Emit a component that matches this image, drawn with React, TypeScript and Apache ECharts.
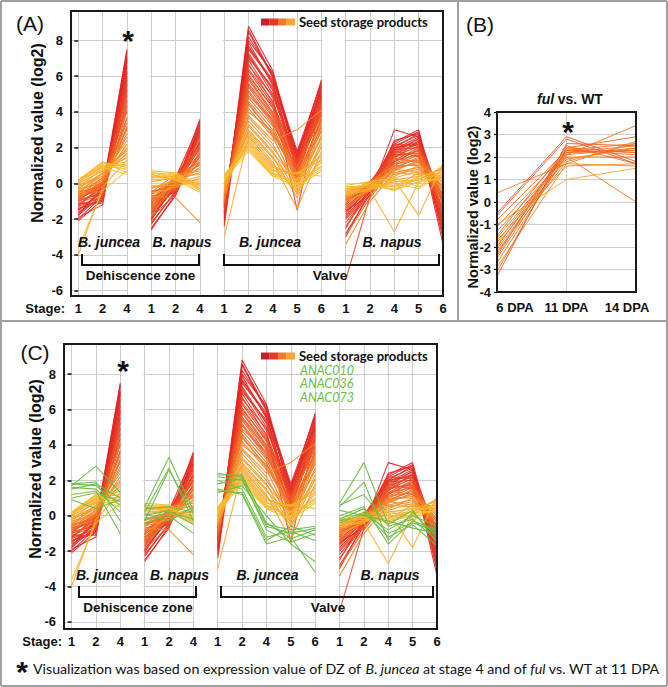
import React, { useEffect, useRef } from "react";
import * as echarts from "echarts";

// ---------- data ----------
const stageLabels = ["1", "2", "4", "1", "2", "4", "1", "2", "4", "5", "6", "1", "2", "4", "5", "6"];
const columnIdx = [0, 1, 2, 3, 4, 5, 6, 7, 8, 9, 10, 11, 12, 13, 14, 15];
const blocks = [[0, 1, 2], [3, 4, 5], [6, 7, 8, 9, 10], [11, 12, 13, 14, 15]];
const gapCenters = [2.5, 5.5, 10.5];
const yTicks = [-6, -4, -2, 0, 2, 4, 6, 8];

// columns: DZ juncea 1,2,4 | DZ napus 1,2,4 | Valve juncea 1,2,4,5,6 | Valve napus 1,2,4,5,6
const seedGenes: number[][] = [
  [-1.8, -0.6, 7.5, -1.9, -0.2, 3.6, -1.9, 8.8, 6.3, 1.4, 5.8, -1.6, -0.3, 2.2, 2.9, -2.9],
  [-1.7, -0.3, 7.4, -2.0, -0.1, 3.0, -2.2, 8.5, 5.9, 1.5, 5.7, -1.9, -0.5, 2.4, 2.8, -3.1],
  [-2.1, -0.9, 7.3, -2.2, -0.5, 3.3, -1.6, 8.6, 6.0, 1.8, 5.6, -2.8, -0.6, 3.0, 2.6, -3.4],
  [-1.5, -0.4, 7.1, -1.4, 0.1, 3.1, -1.4, 8.2, 6.1, 1.2, 5.5, -1.3, -0.2, 2.0, 2.8, -2.4],
  [-2.0, -0.7, 7.0, -2.6, -0.6, 3.5, -1.8, 8.0, 6.2, 1.0, 5.4, -2.5, -0.2, 2.3, 3.0, -2.2],
  [-1.4, -0.9, 6.9, -1.1, 0.2, 2.7, -1.3, 7.9, 5.5, 1.7, 5.2, -1.5, -0.7, 1.9, 2.6, -2.6],
  [-1.9, -1.2, 6.8, -2.5, -0.7, 2.9, -2.0, 7.7, 5.6, 0.9, 5.3, -1.8, -0.4, 1.8, 2.5, -1.9],
  [-1.2, -0.2, 6.6, -1.0, 0.3, 3.4, -1.1, 7.6, 5.8, 1.6, 5.1, -1.1, 0.0, 2.1, 2.7, -1.2],
  [-1.8, -0.2, 6.5, -2.3, -0.4, 3.2, -2.4, 7.5, 5.7, 0.6, 4.8, -3.0, -0.4, 2.0, 2.2, -1.5],
  [-1.6, -0.8, 6.3, -1.7, -0.3, 2.6, -1.7, 7.3, 5.2, 0.7, 4.9, -2.2, -0.5, 1.6, 2.3, -2.7],
  [-1.1, -1.1, 6.2, -1.5, 0.1, 2.3, -1.2, 7.2, 5.0, 1.3, 5.0, -1.0, -0.1, 1.7, 2.5, -2.0],
  [-1.0, -0.5, 6.0, -2.0, 0.2, 2.8, -0.9, 7.0, 5.4, 1.1, 5.0, -1.4, -0.1, 1.9, 2.0, -1.6],
  [-1.5, -0.5, 5.9, -0.9, -0.5, 2.9, -1.6, 7.1, 5.3, 0.8, 4.5, -2.0, -0.6, 1.5, 2.1, -1.1],
  [-1.4, -1.0, 5.8, -1.2, -0.4, 2.4, -1.3, 6.9, 4.8, -1.5, 4.6, -0.9, -0.3, 1.4, 2.4, -2.1],
  [-1.2, -0.8, 5.6, -2.1, 0.3, 2.0, -1.0, 6.6, 4.9, 1.2, 4.8, -1.2, 0.0, 2.0, 2.3, -2.3],
  [-0.9, -0.1, 5.5, -1.6, 0.0, 2.2, -1.0, 6.7, 4.5, 1.3, 4.7, -1.7, -0.2, 2.2, 2.1, -0.8],
  [-0.8, -0.3, 5.3, -1.2, -0.2, 2.3, -1.4, 6.3, 4.4, 0.5, 4.2, -0.7, -0.3, 1.6, 1.7, -1.7],
  [-1.3, -0.7, 5.2, -0.8, -0.2, 2.0, -1.5, 6.4, 4.6, 0.8, 4.3, -5.4, -0.7, 1.2, 1.9, -1.4],
  [-1.3, 0.0, 5.0, -1.7, 0.1, 1.9, -0.7, 6.0, 4.3, 1.1, 4.5, -2.4, -0.5, 1.3, 2.0, -0.9],
  [-0.7, -0.3, 4.9, -1.3, 0.4, 2.5, -0.8, 6.1, 4.2, 0.4, 4.4, -1.2, 0.1, 1.7, 2.2, -1.0],
  [-0.9, -0.6, 4.7, -0.7, -0.4, 1.7, -1.1, 5.8, 3.9, 0.7, 3.9, -1.1, -0.2, 1.8, 1.5, -1.5],
  [-1.1, -0.6, 4.6, -1.9, -0.6, 1.8, -1.2, 5.9, 4.0, 1.0, 4.0, -0.8, -0.4, 1.3, 1.6, -1.8],
  [-0.6, -0.1, 4.4, -1.4, 0.2, 2.2, -0.9, 5.5, 3.7, 0.3, 3.6, -1.6, 0.1, 1.2, 1.9, -0.7],
  [-0.6, 0.0, 4.3, -0.6, 0.3, 1.6, -0.7, 5.6, 3.8, 0.6, 4.1, -1.5, -0.2, 1.5, 1.8, -0.6],
  [-1.0, 0.1, 4.1, -1.0, -0.3, 1.5, -0.6, 5.2, 3.4, 0.8, 3.9, -0.9, -0.4, 1.0, 1.6, -1.1],
  [-1.0, -0.4, 4.0, -1.5, -0.1, 2.1, -1.0, 5.4, 3.5, 0.2, 3.7, -2.9, -0.8, 0.9, 1.4, -1.3],
  [-0.5, -0.2, 3.7, -1.1, 0.2, 1.4, -0.6, 5.1, 3.3, 0.9, 3.8, -1.0, 0.0, 1.1, 1.7, -0.4],
  [-0.7, -0.2, 3.6, -0.5, 0.0, 1.1, -0.8, 4.8, 3.2, 0.1, 3.2, -1.4, -0.2, 1.1, 1.3, -0.6],
  [-0.8, 0.1, 3.4, -0.4, -0.3, 1.2, -1.1, 4.9, 3.6, 0.3, 3.5, -0.7, -0.3, 1.4, 1.2, -0.9],
  [-0.4, -0.5, 3.2, -1.8, 0.0, 1.5, -0.5, 4.6, 3.0, 0.0, 3.3, -1.9, -0.6, 0.8, 1.5, -0.2],
  [-0.5, 0.3, 3.1, -1.3, 0.3, 1.2, -0.5, 4.5, 2.7, 0.5, 2.9, -0.8, 0.0, 0.8, 1.2, -0.2],
  [-0.9, 0.2, 3.0, -0.9, 0.4, 1.0, -0.9, 4.4, 2.8, 0.6, 3.4, -0.6, 0.1, 1.0, 1.0, -0.7],
  [-0.3, 0.0, 2.8, -0.2, -0.1, 0.9, -0.4, 4.2, 2.6, -0.2, 3.0, -1.3, -0.4, 0.7, 1.3, 0.0],
  [-0.7, 0.3, 2.6, -1.4, 0.1, 1.3, -0.8, 4.0, 2.9, 0.4, 3.1, -3.4, -1.0, 0.6, 0.9, -0.5],
  [-0.2, 0.4, 2.4, -0.5, 0.5, 0.7, -0.3, 3.8, 2.4, 3.0, 4.1, -0.9, -0.2, 0.9, 1.1, 0.2],
  [-0.6, 0.2, 2.2, -0.7, -0.8, -2.2, -0.6, 3.7, 2.2, -0.4, 2.7, -0.5, 0.0, 0.5, 0.8, -0.3],
  [-0.1, 0.5, 2.0, -0.3, 0.2, 0.6, -0.2, 3.5, 2.0, 0.1, 2.5, -1.1, -0.3, 0.8, 0.6, 0.4],
  [-0.5, 0.6, 1.9, -1.0, 0.0, 0.4, -0.5, 3.3, 1.8, -0.6, 2.3, -0.6, -0.1, 0.4, 1.0, 0.1],
  [0.0, 0.7, 1.8, 0.1, 0.3, 0.8, -0.1, 3.2, 1.7, 0.2, 2.6, -0.8, 0.1, 0.6, 0.5, 0.6],
  [-0.4, 0.4, 1.7, -0.6, -0.2, 0.3, -0.4, 3.0, 1.5, -0.8, 2.1, -0.4, -0.2, 0.3, 0.7, -0.1],
  [0.1, 0.8, 1.6, 0.3, 0.4, 0.5, 0.0, 2.9, 1.4, 0.0, 2.0, -1.0, -0.4, 0.2, 0.4, 0.8],
  [-0.3, 0.6, 1.5, -0.2, 0.1, 0.2, -0.3, 2.8, 1.2, -1.4, 1.8, -0.3, 0.0, -0.2, 0.6, 0.3],
  [0.2, 0.9, 1.4, 0.5, 0.2, -0.1, 0.2, 2.7, 1.0, 0.3, 1.6, -0.7, -0.3, 0.1, 0.2, 0.9],
  [-4.0, -0.2, 1.3, -0.1, -0.1, 0.1, -3.0, 2.6, 1.1, -0.5, 1.4, -0.5, 0.1, -0.4, 0.3, 0.5],
  [0.1, 1.0, 1.2, 0.6, 0.5, -0.3, 0.3, 2.5, 0.9, 0.5, 1.5, -0.2, -0.2, 0.0, 0.0, 1.0],
  [-0.2, 0.8, 1.1, 0.2, 0.3, 0.0, -0.2, 2.4, 0.8, -0.3, 1.2, -0.6, -0.4, -2.7, 0.1, 0.7],
  [0.2, 1.1, 1.0, 0.7, 0.6, -0.4, 0.4, 2.3, 0.7, 0.6, 1.3, -0.4, 0.0, 0.2, -1.8, 1.1],
  [0.0, 1.2, 0.9, 0.4, 0.4, -0.2, 0.1, 2.2, 0.6, -0.1, 1.0, -0.3, -0.2, -0.3, 0.4, 0.4],
  [0.1, 1.0, 0.8, 0.5, 0.2, -0.5, 0.5, 2.1, 0.5, 0.6, 0.4, -0.1, 0.1, 0.3, -0.2, 0.8],
  [-3.6, -0.4, 0.7, 0.3, 0.5, -0.3, 0.3, 2.0, 0.4, 0.2, 0.9, -0.5, -0.3, -0.1, 0.2, 0.2],
  [0.2, 1.2, 0.6, 0.6, 0.3, -0.4, 0.4, 1.9, 0.5, 0.0, 0.8, -0.2, -0.1, 0.0, -0.3, 0.6],
  [0.1, 0.9, 0.5, 0.4, 0.6, -0.1, 0.2, 1.8, 0.4, -0.2, 0.7, -0.4, 0.0, -0.4, 0.1, 0.3],
];

const anacGenes: number[][] = [
  [1.8, 1.7, 0.6, 0.5, 3.3, 0.3, 2.3, 2.3, -0.5, -0.8, -0.6, 0.7, 3.0, -0.5, 0.3, -1.5],
  [1.7, 2.8, 1.3, 0.2, 2.7, -0.3, 2.2, 2.0, -0.6, -1.0, -0.7, 0.5, 1.9, -1.4, 0.2, -1.2],
  [1.6, 1.5, 0.2, -0.3, 2.6, 0.1, 2.0, 1.5, -1.2, -0.9, -1.4, 0.0, 0.5, -1.6, -0.3, -0.8],
  [1.5, 1.8, 1.0, 0.0, 0.3, -0.5, 1.8, 2.1, -0.8, -1.5, -1.0, -0.3, 0.2, -1.2, -0.5, -1.7],
  [1.2, 1.4, -1.0, -0.4, 0.0, -1.0, 1.5, 1.2, -1.6, -1.2, -3.2, 0.3, 0.0, -0.3, -0.7, -1.0],
  [1.0, 1.3, 0.8, 0.4, 0.5, 0.2, 1.4, 1.3, -1.4, -0.6, -1.1, -0.4, 0.1, -0.8, 0.0, -0.6],
  [1.8, 1.9, -0.3, -0.2, 0.2, -0.2, 2.4, 2.2, -0.4, -1.3, -0.8, 0.6, 1.2, -0.6, -0.2, -1.4],
  [0.9, 0.4, 0.9, 0.1, -0.3, 0.5, 1.3, 1.7, 0.0, -1.6, -2.6, -0.2, 0.4, -1.0, -0.4, -0.9],
];

const fulStages = ["6 DPA", "11 DPA", "14 DPA"];
const fulGenes: number[][] = [
  [0.4, 1.7, 1.6],
  [-0.5, 2.9, 1.8],
  [-0.6, 2.8, 1.7],
  [-0.8, 2.3, 2.6],
  [-1.0, 1.0, 1.5],
  [-1.1, 2.2, 2.3],
  [-1.3, 2.0, 2.0],
  [-1.5, 2.4, 2.9],
  [-1.6, 2.1, 3.4],
  [-1.8, 2.2, 2.5],
  [-1.9, 1.9, 2.4],
  [-2.0, 2.3, 2.2],
  [-2.1, 2.0, 0.0],
  [-2.2, 1.8, 2.6],
  [-2.4, 2.5, 1.7],
  [-2.5, 2.2, 2.3],
  [-2.7, 2.1, 2.4],
  [-2.9, 1.7, 2.7],
  [-3.1, 2.4, 2.2],
  [-3.3, 2.6, 2.5],
  [-1.7, 1.6, 1.7],
  [-2.3, 2.3, 2.1],
];

// ---------- styling helpers ----------
const SANS = "'Liberation Sans', Arial, sans-serif";
const LATO = "Lato, 'Liberation Sans', sans-serif";
const GRID_COLOR = "#cdcdcd";
const GREEN = "#6cbd45";
const rampStops: [number, number[]][] = [
  [0, [228, 30, 36]],
  [0.55, [243, 112, 33]],
  [1, [250, 192, 46]],
];
function ramp(t: number): string {
  const tt = Math.max(0, Math.min(1, t));
  let i = 0;
  while (i < rampStops.length - 2 && tt > rampStops[i + 1][0]) i++;
  const [t0, a] = rampStops[i];
  const [t1, b] = rampStops[i + 1];
  const lt = (tt - t0) / (t1 - t0);
  const c = a.map((v, k) => Math.round(v + (b[k] - v) * lt));
  return `rgb(${c[0]},${c[1]},${c[2]})`;
}

function geneLine(vals: number[]) {
  const out: any[] = [];
  blocks.forEach((blk, bi) => {
    if (bi > 0) out.push([blk[0] - 0.5, "-"]);
    blk.forEach((c) => out.push([c, vals[c]]));
  });
  return out;
}

const PANELS = {
  A: { grid: { left: 71, top: 11, width: 372, height: 285 }, xMin: -0.3, yMin: -6.3, yMax: 9.65 },
  C: { grid: { left: 64, top: 344, width: 373, height: 285 }, xMin: -0.31, yMin: -6.4, yMax: 9.7 },
  B: { grid: { left: 497, top: 112, width: 139, height: 180 } },
};

const tickLabelStyle = { fontFamily: SANS, fontWeight: "bold" as const, fontSize: 13, color: "#111" };

function text(x: number, y: number, str: string, o: any = {}) {
  const style: any = {
    text: str,
    fill: o.fill || "#111",
    fontFamily: o.fontFamily || SANS,
    fontSize: o.fontSize || 13,
    fontWeight: o.fontWeight || "normal",
    fontStyle: o.fontStyle || "normal",
    align: o.align || "center",
    verticalAlign: "middle",
  };
  if (o.rich) style.rich = o.rich;
  return { type: "text", x, y, rotation: o.rotation || 0, z: 200, silent: true, style };
}
function rect(x: number, y: number, w: number, h: number, style: any, z = 150) {
  return { type: "rect", z, silent: true, shape: { x, y, width: w, height: h }, style };
}
function line(x1: number, y1: number, x2: number, y2: number, style: any, z = 150) {
  return { type: "line", z, silent: true, shape: { x1, y1, x2, y2 }, style };
}
function bracket(x1: number, x2: number, yTop: number, yBot: number) {
  return {
    type: "polyline",
    z: 160,
    silent: true,
    shape: { points: [[x1, yTop], [x1, yBot], [x2, yBot], [x2, yTop]] },
    style: { stroke: "#111", lineWidth: 2, fill: "none" },
  };
}

function stagePanel(idx: number, key: "A" | "C", withAnac: boolean) {
  const p = PANELS[key];
  const colW = p.grid.width / (15 - p.xMin);
  const xAxis = {
    type: "value",
    gridIndex: idx,
    min: p.xMin,
    max: 15,
    axisLine: { show: false },
    axisTick: { show: false, customValues: columnIdx },
    splitLine: { show: true, lineStyle: { color: GRID_COLOR, width: 1 } },
    axisLabel: {
      ...tickLabelStyle,
      customValues: columnIdx,
      margin: 6,
      formatter: (v: number) => stageLabels[Math.round(v)] ?? "",
    },
  };
  const yAxis = {
    type: "value",
    gridIndex: idx,
    min: p.yMin,
    max: p.yMax,
    axisLine: { show: false },
    axisTick: { show: true, customValues: yTicks, length: 4, lineStyle: { color: "#111", width: 1.5 } },
    splitLine: { show: true, lineStyle: { color: GRID_COLOR, width: 1 } },
    axisLabel: { ...tickLabelStyle, customValues: yTicks, margin: 8 },
  };
  // white bands separating the tissue / species blocks
  const bandStyle = {
    type: "bar",
    xAxisIndex: idx,
    yAxisIndex: idx,
    z: 1,
    silent: true,
    barWidth: Math.round(colW - 2),
    barGap: "-100%",
    itemStyle: { color: "#ffffff" },
  };
  const series: any[] = [
    { ...bandStyle, data: gapCenters.map((x) => [x, p.yMax]) },
    { ...bandStyle, data: gapCenters.map((x) => [x, p.yMin]) },
  ];
  const maxV = 7.5;
  const minV = 0.5;
  const ordered = [...seedGenes].sort((g1, g2) => g2[2] - g1[2]);
  ordered.forEach((g) => {
    const t = Math.pow(Math.max(0, (maxV - g[2]) / (maxV - minV)), 1.25);
    series.push({
      type: "line",
      xAxisIndex: idx,
      yAxisIndex: idx,
      z: 3,
      silent: true,
      showSymbol: false,
      symbol: "none",
      connectNulls: false,
      data: geneLine(g),
      lineStyle: { width: 1.1, color: ramp(t), opacity: 0.9 },
    });
  });
  if (withAnac) {
    anacGenes.forEach((g) => {
      series.push({
        type: "line",
        xAxisIndex: idx,
        yAxisIndex: idx,
        z: 4,
        silent: true,
        showSymbol: false,
        symbol: "none",
        connectNulls: false,
        data: geneLine(g),
        lineStyle: { width: 1.1, color: GREEN, opacity: 0.95 },
      });
    });
  }
  return { xAxis, yAxis, series };
}

function buildOption() {
  const a = stagePanel(0, "A", false);
  const c = stagePanel(1, "C", true);

  // panel B
  const bx = {
    type: "category",
    gridIndex: 2,
    data: fulStages,
    boundaryGap: false,
    axisLine: { show: false },
    axisTick: { show: false },
    splitLine: { show: true, lineStyle: { color: GRID_COLOR, width: 1 } },
    axisLabel: {
      ...tickLabelStyle,
      interval: 0,
      margin: 9,
      formatter: (v: string, i: number) => (i === 0 ? `{l|${v}}` : i === 2 ? `{r|${v}}` : `{m|${v}}`),
      rich: {
        l: { ...tickLabelStyle, padding: [0, 0, 0, 36] },
        m: { ...tickLabelStyle },
        r: { ...tickLabelStyle, padding: [0, 18, 0, 0] },
      },
    },
  };
  const by = {
    type: "value",
    gridIndex: 2,
    min: -4,
    max: 4,
    interval: 1,
    axisLine: { show: false },
    axisTick: { show: true, length: 3, lineStyle: { color: "#111", width: 1.2 } },
    splitLine: { show: true, lineStyle: { color: GRID_COLOR, width: 1 } },
    axisLabel: { ...tickLabelStyle, margin: 6 },
  };
  const bSeries = fulGenes.map((g) => ({
    type: "line",
    xAxisIndex: 2,
    yAxisIndex: 2,
    z: 3,
    silent: true,
    showSymbol: false,
    symbol: "none",
    data: g,
    lineStyle: { width: 1, color: ramp(0.35 + ((2.9 - g[1]) / 1.9) * 0.5), opacity: 0.9 },
  }));

  const ga = PANELS.A.grid;
  const gc = PANELS.C.grid;
  const gb = PANELS.B.grid;
  const frameStyle = { fill: "none", stroke: "#1a1a1a", lineWidth: 2 };
  const legendColors = ["#c8202f", "#e23a2a", "#ef7a2b", "#f6a53a"];

  const legend = (x: number, y: number) => [
    ...legendColors.map((col, i) => rect(x + i * 8.5, y - 3.5, 8.6, 7, { fill: col, stroke: "none" }, 170)),
    text(x + 38, y, "Seed storage products", { align: "left", fontFamily: LATO, fontWeight: "bold", fontSize: 13 }),
  ];

  const graphic: any[] = [
    // figure borders (drawn as lines only)
    line(1, 1, 667, 1, { stroke: "#a0a0a0", lineWidth: 2 }, 140),
    line(1, 686, 667, 686, { stroke: "#a0a0a0", lineWidth: 2 }, 140),
    line(1, 1, 1, 686, { stroke: "#a0a0a0", lineWidth: 2 }, 140),
    line(667, 1, 667, 686, { stroke: "#a0a0a0", lineWidth: 2 }, 140),
    line(458, 0, 458, 321, { stroke: "#a0a0a0", lineWidth: 2 }, 140),
    line(0, 321, 668, 321, { stroke: "#a0a0a0", lineWidth: 2 }, 140),
    // frames
    rect(ga.left, ga.top, ga.width, ga.height, frameStyle, 180),
    rect(gc.left, gc.top, gc.width, gc.height, frameStyle, 180),
    rect(gb.left, gb.top, gb.width, gb.height, frameStyle, 180),
    // panel letters
    text(30, 23, "(A)", { fontSize: 21 }),
    text(480, 24, "(B)", { fontSize: 21 }),
    text(35, 352, "(C)", { fontSize: 21 }),
    // y titles
    text(37, 133, "Normalized value (log2)", { rotation: Math.PI / 2, fontWeight: "bold", fontSize: 16 }),
    text(473, 207, "Normalized value (log2)", { rotation: Math.PI / 2, fontWeight: "bold", fontSize: 14.5 }),
    text(35, 469, "Normalized value (log2)", { rotation: Math.PI / 2, fontWeight: "bold", fontSize: 16 }),
    // Stage:
    text(65, 308, "Stage:", { align: "right", fontWeight: "bold", fontSize: 13 }),
    text(62, 641, "Stage:", { align: "right", fontWeight: "bold", fontSize: 13 }),
    // asterisks
    text(128, 40, "*", { fontWeight: "bold", fontSize: 30 }),
    text(568, 131, "*", { fontWeight: "bold", fontSize: 30 }),
    text(123, 370, "*", { fontWeight: "bold", fontSize: 30 }),
    // B title
    text(570, 99, "{i|ful} {b|vs. WT}", {
      rich: {
        i: { fontFamily: SANS, fontSize: 14, fontWeight: "bold", fontStyle: "italic", fill: "#111" },
        b: { fontFamily: SANS, fontSize: 14, fontWeight: "bold", fill: "#111" },
      },
    }),
    // legends
    ...legend(261, 22),
    ...legend(261, 356),
    text(300, 370, "ANAC010", { align: "left", fontFamily: LATO, fontStyle: "italic", fontSize: 12.5, fill: GREEN }),
    text(300, 383.5, "ANAC036", { align: "left", fontFamily: LATO, fontStyle: "italic", fontSize: 12.5, fill: GREEN }),
    text(300, 397, "ANAC073", { align: "left", fontFamily: LATO, fontStyle: "italic", fontSize: 12.5, fill: GREEN }),
    // panel A annotations
    text(109, 242, "B. juncea", { fontWeight: "bold", fontStyle: "italic", fontSize: 14 }),
    text(182, 242, "B. napus", { fontWeight: "bold", fontStyle: "italic", fontSize: 14 }),
    text(270, 242, "B. juncea", { fontWeight: "bold", fontStyle: "italic", fontSize: 14 }),
    text(392, 242, "B. napus", { fontWeight: "bold", fontStyle: "italic", fontSize: 14 }),
    bracket(82, 199, 254, 265),
    bracket(224, 439, 254, 265),
    text(140.5, 275, "Dehiscence zone", { fontWeight: "bold", fontSize: 13.5 }),
    text(330, 275, "Valve", { fontWeight: "bold", fontSize: 13.5 }),
    // panel C annotations
    text(107, 575, "B. juncea", { fontWeight: "bold", fontStyle: "italic", fontSize: 14 }),
    text(179.5, 575, "B. napus", { fontWeight: "bold", fontStyle: "italic", fontSize: 14 }),
    text(267.5, 575, "B. juncea", { fontWeight: "bold", fontStyle: "italic", fontSize: 14 }),
    text(390, 575, "B. napus", { fontWeight: "bold", fontStyle: "italic", fontSize: 14 }),
    bracket(79, 196, 586, 597),
    bracket(221, 433, 586, 597),
    text(138, 607, "Dehiscence zone", { fontWeight: "bold", fontSize: 13.5 }),
    text(328, 607, "Valve", { fontWeight: "bold", fontSize: 13.5 }),
    // footnote
    text(22, 671, "*", { fontWeight: "bold", fontSize: 30 }),
    text(
      33,
      668,
      "Visualization was based on expression value of DZ of {i|B. juncea} at stage 4 and of {i|ful} vs. WT at 11 DPA",
      {
        align: "left",
        fontFamily: LATO,
        fontSize: 14.2,
        rich: { i: { fontFamily: LATO, fontSize: 14.2, fontStyle: "italic", fill: "#111" } },
      }
    ),
  ];

  return {
    animation: false,
    backgroundColor: "#ffffff",
    grid: [
      { ...ga, containLabel: false },
      { ...gc, containLabel: false },
      { ...gb, containLabel: false },
    ],
    xAxis: [a.xAxis, c.xAxis, bx],
    yAxis: [a.yAxis, c.yAxis, by],
    series: [...a.series, ...c.series, ...bSeries],
    graphic,
  };
}

export default function App() {
  const ref = useRef<HTMLDivElement>(null);
  useEffect(() => {
    if (!ref.current) return;
    const chart = echarts.init(ref.current, undefined, { renderer: "svg" });
    chart.setOption(buildOption() as any);
    return () => chart.dispose();
  }, []);
  return (
    <div
      ref={ref}
      style={{ position: "absolute", left: 0, top: 0, width: 668, height: 687, background: "#fff" }}
    />
  );
}
